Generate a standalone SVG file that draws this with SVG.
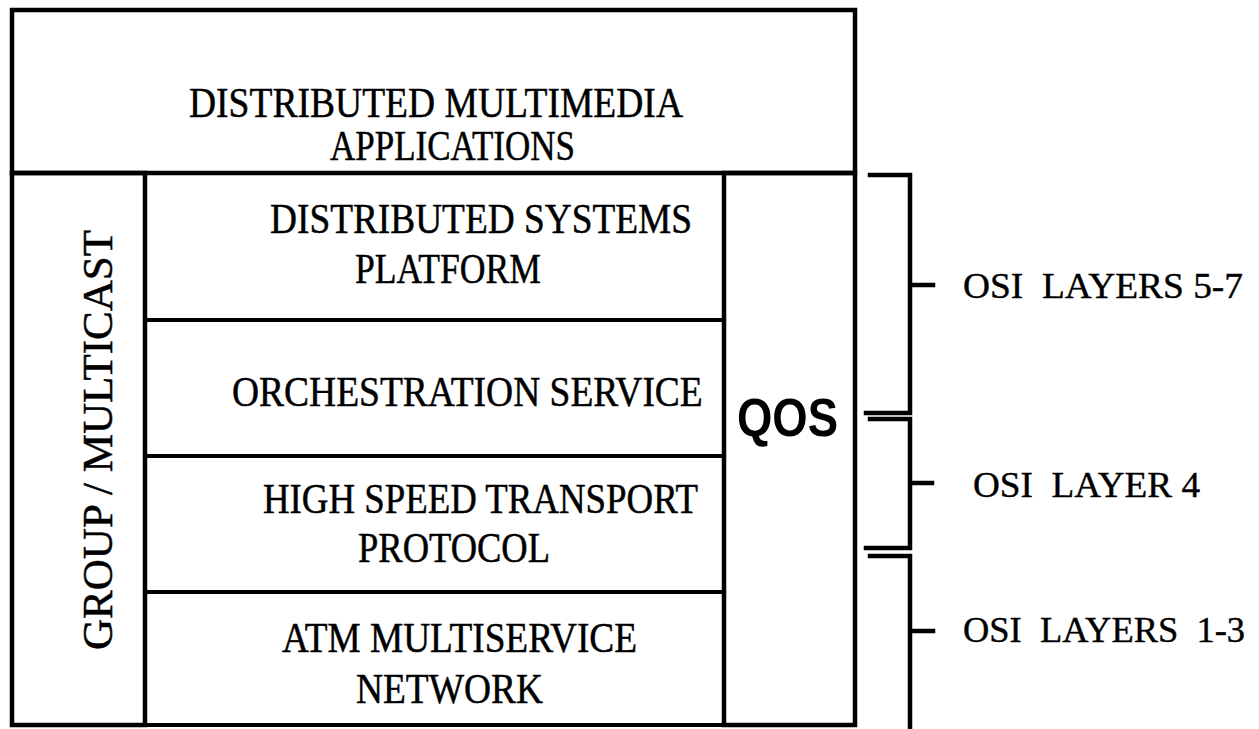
<svg xmlns="http://www.w3.org/2000/svg" width="1259" height="729" viewBox="0 0 1259 729">
  <style>
    .frame { fill: none; stroke: #000; stroke-width: 4.5; stroke-linecap: square; }
    .rule { fill: none; stroke: #000; stroke-width: 4; stroke-linecap: square; }
    .lbl { font-family: "Liberation Serif", "Times New Roman", serif; font-size: 43px; fill: #000; stroke: #000; stroke-width: 0.5; }
    .osi { font-family: "Liberation Serif", "Times New Roman", serif; font-size: 36px; fill: #000; stroke: #000; stroke-width: 0.4; }
    .qos { font-family: "Liberation Sans", Arial, sans-serif; font-weight: bold; font-size: 54px; fill: #000; }
  </style>
  <rect width="1259" height="729" fill="#fff"/>

  <!-- top block: applications -->
  <g id="applications">
    <rect class="frame" x="12" y="10" width="843" height="163"/>
    <text class="lbl" x="189" y="117" textLength="494" lengthAdjust="spacingAndGlyphs">DISTRIBUTED MULTIMEDIA</text>
    <text class="lbl" x="330" y="160" textLength="245" lengthAdjust="spacingAndGlyphs">APPLICATIONS</text>
  </g>

  <!-- left column: group / multicast -->
  <g id="group-multicast">
    <rect class="frame" x="12" y="173" width="133" height="552"/>
    <text class="lbl" transform="translate(112 650) rotate(-90)" x="0" y="0" textLength="420" lengthAdjust="spacingAndGlyphs">GROUP / MULTICAST</text>
  </g>

  <!-- middle stack of layers -->
  <g id="platform">
    <rect class="rule" x="145" y="173" width="579" height="147"/>
    <text class="lbl" x="270" y="233" textLength="422" lengthAdjust="spacingAndGlyphs">DISTRIBUTED SYSTEMS</text>
    <text class="lbl" x="355" y="283" textLength="186" lengthAdjust="spacingAndGlyphs">PLATFORM</text>
  </g>
  <g id="orchestration">
    <rect class="rule" x="145" y="320" width="579" height="136"/>
    <!-- horizontally condensed so it fits left of the QoS column -->
    <text class="lbl" transform="translate(232 406) scale(0.872 1)">ORCHESTRATION SERVICE</text>
  </g>
  <g id="transport">
    <rect class="rule" x="145" y="456" width="579" height="136"/>
    <text class="lbl" x="263" y="513" textLength="435" lengthAdjust="spacingAndGlyphs">HIGH SPEED TRANSPORT</text>
    <text class="lbl" x="358" y="562" textLength="192" lengthAdjust="spacingAndGlyphs">PROTOCOL</text>
  </g>
  <g id="atm-network">
    <rect class="rule" x="145" y="592" width="579" height="133"/>
    <text class="lbl" x="282" y="652" textLength="355" lengthAdjust="spacingAndGlyphs">ATM MULTISERVICE</text>
    <text class="lbl" x="356" y="703" textLength="187" lengthAdjust="spacingAndGlyphs">NETWORK</text>
  </g>

  <!-- right column: QoS -->
  <g id="qos">
    <rect class="frame" x="724" y="173" width="131" height="552"/>
    <text class="qos" x="737" y="436" textLength="101" lengthAdjust="spacingAndGlyphs">QOS</text>
  </g>

  <!-- brackets grouping the stack into OSI layers -->
  <g id="connectors">
    <path class="frame" d="M870 175 H910 V413 H866 M910 285 H933"/>
    <path class="frame" d="M870 419 H910 V548 H866 M910 483 H932"/>
    <path class="frame" d="M870 556 H910 V731 M910 631 H933"/>
  </g>

  <g id="osi-5-7">
    <text class="osi" x="963" y="298" xml:space="preserve" textLength="280" lengthAdjust="spacingAndGlyphs">OSI  LAYERS 5-7</text>
  </g>
  <g id="osi-4">
    <text class="osi" x="973" y="497" xml:space="preserve" textLength="227" lengthAdjust="spacingAndGlyphs">OSI  LAYER 4</text>
  </g>
  <g id="osi-1-3">
    <text class="osi" x="963" y="642" xml:space="preserve" textLength="282" lengthAdjust="spacingAndGlyphs">OSI  LAYERS  1-3</text>
  </g>
</svg>
